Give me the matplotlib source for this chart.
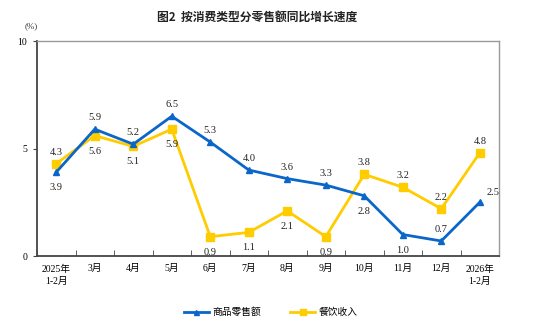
import matplotlib
matplotlib.use("Agg")
import matplotlib.pyplot as plt

plt.rcParams['font.family'] = ['Liberation Serif', 'Noto Sans CJK SC']

categories = ['2025年\n1-2月', '3月', '4月', '5月', '6月', '7月', '8月', '9月',
              '10月', '11月', '12月', '2026年\n1-2月']
goods = [3.9, 5.9, 5.2, 6.5, 5.3, 4.0, 3.6, 3.3, 2.8, 1.0, 0.7, 2.5]
catering = [4.3, 5.6, 5.1, 5.9, 0.9, 1.1, 2.1, 0.9, 3.8, 3.2, 2.2, 4.8]
goods_pos = ['b', 'a', 'a', 'a', 'a', 'a', 'a', 'a', 'b', 'b', 'a', 'r']
cat_pos = ['a', 'b', 'b', 'b', 'b', 'b', 'b', 'b', 'a', 'a', 'a', 'a']

blue = '#0a66c8'
yellow = '#ffcc00'

fig = plt.figure(figsize=(5.41, 3.27), dpi=100)
ax = fig.add_axes([0.0684, 0.217, 0.854, 0.6576])
x = list(range(len(categories)))
ax.plot(x, goods, color=blue, lw=2, marker='^', ms=4.5, label='商品零售额', zorder=3)
ax.plot(x, catering, color=yellow, lw=2, marker='s', ms=6, label='餐饮收入', zorder=2)

def annotate(vals, pos):
    for i, (v, p) in enumerate(zip(vals, pos)):
        if p == 'a':
            ax.annotate(f'{v:.1f}', (i, v), xytext=(0, 5), textcoords='offset points',
                        ha='center', va='bottom', fontsize=7.5, color='#222222')
        elif p == 'b':
            ax.annotate(f'{v:.1f}', (i, v), xytext=(0, -8), textcoords='offset points',
                        ha='center', va='top', fontsize=7.5, color='#222222')
        else:
            ax.annotate(f'{v:.1f}', (i, v), xytext=(5, 4), textcoords='offset points',
                        ha='left', va='bottom', fontsize=7.5, color='#222222')

annotate(goods, goods_pos)
annotate(catering, cat_pos)

ax.set_xlim(-0.5, len(categories) - 0.5)
ax.set_ylim(0, 10)
ax.set_yticks([0, 5, 10])
ax.set_yticklabels(['0', '5', '10'], fontsize=7)
ax.set_xticks(x)
ax.set_xticklabels(categories, fontsize=7, linespacing=1.5)
ax.tick_params(axis='x', length=0, pad=6)
ax.set_xticks([i + 0.5 for i in range(-1, len(categories))], minor=True)
ax.tick_params(axis='x', which='minor', direction='in', length=4, color='#444444')
ax.tick_params(axis='y', direction='out', length=3, color='#444444', pad=4)

for s in ['left', 'bottom']:
    ax.spines[s].set_color('#444444')
    ax.spines[s].set_linewidth(1.3)
for s in ['top', 'right']:
    ax.spines[s].set_color('#999999')
    ax.spines[s].set_linewidth(1.0)

fig.text(0.476, 0.948, '图2  按消费类型分零售额同比增长速度', ha='center', va='center',
         fontsize=8.5, family=['Noto Sans CJK SC'], fontweight='bold', color='#222222')
fig.text(0.057, 0.92, '(%)', ha='center', va='center', fontsize=6.5, color='#333333')

leg = fig.legend(loc='center', bbox_to_anchor=(0.5, 0.045), ncol=2, frameon=False,
                 fontsize=7, handlelength=2.6, columnspacing=3, handletextpad=0.3,
                 markerscale=0.8)

fig.savefig('out.png', dpi=100)
